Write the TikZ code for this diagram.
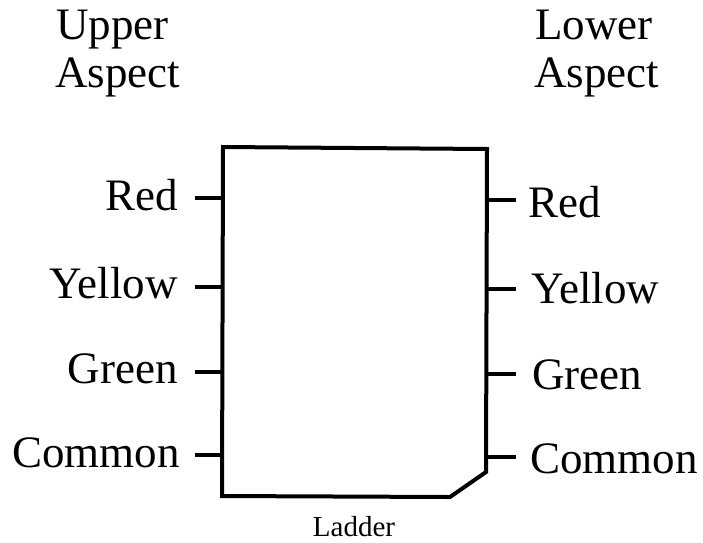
\documentclass[tikz,border=0pt]{standalone}
\usepackage{fontspec}
\setmainfont{Liberation Serif}
\begin{document}
\begin{tikzpicture}[x=1pt,y=-1pt,
  lbl/.style={inner sep=0pt,font=\fontsize{45}{45}\selectfont},
  pin/.style={line width=4pt},
  body/.style={line width=4pt,line join=miter}]
\useasboundingbox (0,0) rectangle (703,542);
% box
\coordinate (tl) at (223,147);
\coordinate (tr) at (487,149);
\coordinate (cr) at (486,472);
\coordinate (cb) at (450,497);
\coordinate (bl) at (222,496);
\draw[body] (tl) -- (tr) -- (cr) -- (cb) -- (bl) -- cycle;
% left pins
\foreach \n/\y in {1/198,2/287,3/372,4/455}{
  \coordinate (la\n) at (195,\y);
  \coordinate (lb\n) at (223,\y);
  \draw[pin] (la\n) -- (lb\n);
}
\foreach \n/\y in {1/200,2/289,3/374,4/457}{
  \coordinate (ra\n) at (487,\y);
  \coordinate (rb\n) at (516,\y);
  \draw[pin] (ra\n) -- (rb\n);
}
% headings
\node[lbl,anchor=base west] (up) at (56,39) {Upper};
\node[lbl,anchor=base west] (ua) at (55,87) {Aspect};
\node[lbl,anchor=base west] (lo) at (535,39) {Lower};
\node[lbl,anchor=base west] (la) at (534,87) {Aspect};
% left labels
\node[lbl,anchor=base east] (l1) at (178,210) {Red};
\node[lbl,anchor=base east] (l2) at (178,298) {Yellow};
\node[lbl,anchor=base east] (l3) at (178,383) {Green};
\node[lbl,anchor=base east] (l4) at (180,467) {Common};
% right labels
\node[lbl,anchor=base west] (r1) at (528,217) {Red};
\node[lbl,anchor=base west] (r2) at (531,303) {Yellow};
\node[lbl,anchor=base west] (r3) at (532,389) {Green};
\node[lbl,anchor=base west] (r4) at (530,473) {Common};
% caption
\node[inner sep=0pt,font=\fontsize{29}{29}\selectfont,anchor=base] (cap) at (354,536) {Ladder};
\end{tikzpicture}
\end{document}
